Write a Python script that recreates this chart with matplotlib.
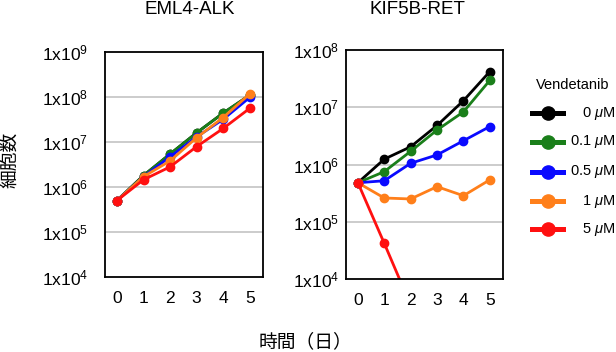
import matplotlib.pyplot as plt
import numpy as np
from matplotlib.lines import Line2D
from matplotlib.ticker import FixedLocator, FuncFormatter

plt.rcParams['font.family'] = ['Liberation Sans', 'Noto Sans CJK JP', 'DejaVu Sans']
plt.rcParams['mathtext.fontset'] = 'custom'
plt.rcParams['mathtext.rm'] = 'Liberation Sans'
plt.rcParams['mathtext.it'] = 'Liberation Sans:italic'

days = [0, 1, 2, 3, 4, 5]
doses = ['0', '0.1', '0.5', '1', '5']
colors = ['#000000', '#1a7f1a', '#0a0aff', '#ff7f1a', '#ff1010']

# EML4-ALK
alk_0 = [5.0e5, 1.8e6, 5.4e6, 1.6e7, 4.4e7, 1.1e8]
alk_01 = [5.0e5, 1.8e6, 5.4e6, 1.6e7, 4.4e7, 1.1e8]
alk_05 = [5.0e5, 1.7e6, 4.7e6, 1.3e7, 3.2e7, 9.8e7]
alk_1 = [5.0e5, 1.7e6, 3.8e6, 1.25e7, 3.5e7, 1.17e8]
alk_5 = [5.0e5, 1.45e6, 2.8e6, 7.9e6, 2.0e7, 5.6e7]

# KIF5B-RET
ret_0 = [4.8e5, 1.24e6, 2.04e6, 4.8e6, 1.3e7, 4.2e7]
ret_01 = [4.8e5, 7.5e5, 1.7e6, 4.0e6, 8.3e6, 2.95e7]
ret_05 = [4.8e5, 5.2e5, 1.05e6, 1.47e6, 2.6e6, 4.6e6]
ret_1 = [4.8e5, 2.6e5, 2.5e5, 4.1e5, 2.85e5, 5.4e5]
ret_5 = [4.8e5, 4.2e4, 3.5e3, np.nan, np.nan, np.nan]

alk = [alk_0, alk_01, alk_05, alk_1, alk_5]
ret = [ret_0, ret_01, ret_05, ret_1, ret_5]

W, H = 616, 352
fig = plt.figure(figsize=(W / 100, H / 100), dpi=100)
ax1 = fig.add_axes([105 / W, 1 - 277 / H, 158 / W, 225 / H])
ax2 = fig.add_axes([346 / W, 1 - 279 / H, 157 / W, 229 / H])


def fmt(v, pos):
    return r'1x10$^{%d}$' % round(np.log10(v))


def style(ax, lo, hi, ypad):
    ax.set_yscale('log')
    ax.set_ylim(10 ** lo, 10 ** hi)
    ax.set_xlim(-0.45, 5.5)
    ax.yaxis.set_major_locator(FixedLocator([10.0 ** k for k in range(lo, hi + 1)]))
    ax.yaxis.set_major_formatter(FuncFormatter(fmt))
    ax.yaxis.set_minor_locator(FixedLocator([]))
    ax.set_xticks(days)
    ax.tick_params(length=0, labelsize=12.5)
    ax.tick_params(axis='x', pad=10)
    ax.tick_params(axis='y', pad=ypad)
    for k in range(lo + 1, hi):
        ax.axhline(10.0 ** k, color='#c4c4c4', lw=1.2, zorder=0)
    for s in ax.spines.values():
        s.set_linewidth(1.3)


for ax, data in ((ax1, alk), (ax2, ret)):
    for vals, c in zip(data, colors):
        ax.plot(days, vals, color=c, lw=2, marker='o', ms=6)

style(ax1, 4, 9, 12)
style(ax2, 4, 8, 5)

fig.text(190 / W, 1 - 10 / H, 'EML4-ALK', ha='center', va='center', fontsize=13.5)
fig.text(417 / W, 1 - 10 / H, 'KIF5B-RET', ha='center', va='center', fontsize=13.5)

fig.text(11 / W, 1 - 160 / H, '細胞数', rotation=90, ha='center', va='center', fontsize=13.5)
fig.text(305 / W, 1 - 342 / H, '時間（日）', ha='center', va='center', fontsize=13.5)

# legend
fig.text(573 / W, 1 - 85 / H, 'Vendetanib', ha='center', va='center', fontsize=10.5)
ys = [113, 142, 172, 201, 229]
for d, c, y in zip(doses, colors, ys):
    yf = 1 - y / H
    fig.add_artist(Line2D([532 / W, 563 / W], [yf, yf], color=c, lw=3.6))
    fig.add_artist(Line2D([548 / W], [yf], color=c, marker='o', ms=9.5, lw=0))
    fig.text(615 / W, yf, d + r' $\mu$M', ha='right', va='center', fontsize=10.5)

fig.savefig('out.png', dpi=100)
